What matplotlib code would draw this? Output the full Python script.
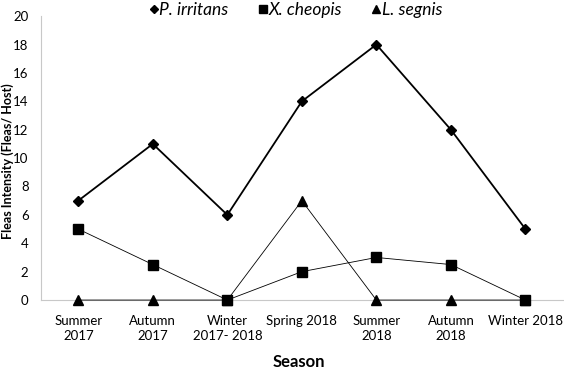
import matplotlib
matplotlib.use("Agg")
import matplotlib.pyplot as plt
from matplotlib.lines import Line2D

plt.rcParams['font.family'] = ['Lato', 'DejaVu Sans']

seasons = ["Summer\n2017", "Autumn\n2017", "Winter\n2017- 2018", "Spring 2018",
           "Summer\n2018", "Autumn\n2018", "Winter 2018"]
p_irritans = [7, 11, 6, 14, 18, 12, 5]
x_cheopis = [5, 2.5, 0, 2, 3, 2.5, 0]
l_segnis = [0, 0, 0, 7, 0, 0, 0]
y_ticks = list(range(0, 21, 2))

fig = plt.figure(figsize=(5.64, 3.76), dpi=100)
ax = fig.add_axes([0.0727, 0.202, 0.925, 0.755])
x = list(range(len(seasons)))

ax.plot(x, p_irritans, color='black', lw=1.3, marker='D', ms=5.5, zorder=3, clip_on=False)
ax.plot(x, x_cheopis, color='black', lw=0.6, marker='s', ms=7, zorder=3, clip_on=False)
ax.plot(x, l_segnis, color='black', lw=0.6, marker='^', ms=6.5, zorder=4, clip_on=False)

ax.set_xlim(-0.5, len(seasons) - 0.5)
ax.set_ylim(0, 20)
ax.set_yticks(y_ticks)
ax.set_xticks(x)
ax.set_xticklabels(seasons, fontsize=9.5, linespacing=1.3)
ax.tick_params(axis='y', labelsize=9.5, length=0, pad=9)
ax.tick_params(axis='x', length=0, pad=11)
for s in ['top', 'right']:
    ax.spines[s].set_visible(False)
ax.spines['left'].set_color('#c8c8c8')
ax.spines['bottom'].set_color('#c8c8c8')
ax.spines['left'].set_linewidth(0.8)
ax.spines['bottom'].set_linewidth(0.8)

fig.text(0.013, 0.572, "Fleas Intensity (Fleas/ Host)", fontsize=9, fontweight='bold',
         rotation=90, ha='center', va='center')
fig.text(0.53, 0.037, "Season", fontsize=12, fontweight='bold', ha='center', va='center')

handles = [
    Line2D([], [], color='black', marker='D', ms=4, lw=0),
    Line2D([], [], color='black', marker='s', ms=6, lw=0),
    Line2D([], [], color='black', marker='^', ms=6, lw=0),
]
labels = ["P. irritans", "X. cheopis", "L. segnis"]
leg = fig.legend(handles, labels, loc='center', bbox_to_anchor=(0.525, 0.974), ncol=3,
                 frameon=False, handlelength=0.45, handletextpad=0.1,
                 columnspacing=1.75, prop={'style': 'italic', 'size': 12.5})

fig.savefig("out.png", dpi=100)
